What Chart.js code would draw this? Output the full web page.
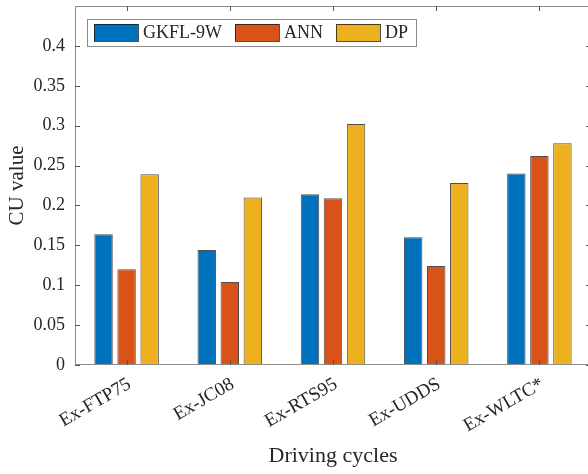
<!DOCTYPE html>
<html>
<head>
<meta charset="utf-8">
<script src="https://cdn.jsdelivr.net/npm/chart.js@4"></script>
<style>
  html, body { margin: 0; padding: 0; background: #fff; overflow: hidden; }
  #wrap { width: 592px; height: 474px; }
</style>
</head>
<body>
<div id="wrap"><canvas id="cu" width="592" height="474"></canvas></div>
<script>
// data
const categories = ['Ex-FTP75', 'Ex-JC08', 'Ex-RTS95', 'Ex-UDDS', 'Ex-WLTC*'];
const seriesNames = ['GKFL-9W', 'ANN', 'DP'];
const gkfl9w = [0.164, 0.144, 0.214, 0.160, 0.240];
const ann = [0.120, 0.104, 0.209, 0.124, 0.262];
const dp = [0.239, 0.210, 0.302, 0.228, 0.278];
const yTickValues = [0, 0.05, 0.1, 0.15, 0.2, 0.25, 0.3, 0.35, 0.4];

const colors = ['#0072BD', '#D95319', '#EDB120'];
const serif = "'Liberation Serif', 'Times New Roman', serif";
const axisGrey = '#8c8c8c';
const textCol = '#262626';

// box, inward ticks and the framed legend, matlab style
const matlabAxes = {
  id: 'matlabAxes',
  afterDatasetsDraw(chart) {
    const { ctx, chartArea, scales } = chart;
    const { left, right, top, bottom } = chartArea;
    ctx.save();
    ctx.strokeStyle = axisGrey;
    ctx.lineWidth = 1;
    ctx.strokeRect(Math.round(left) + 0.5, Math.round(top) + 0.5,
      Math.round(right - left) - 1, Math.round(bottom - top) - 1);

    ctx.beginPath();
    yTickValues.forEach(v => {
      const py = Math.round(scales.y.getPixelForValue(v)) + 0.5;
      ctx.moveTo(left, py); ctx.lineTo(left + 5, py);
      ctx.moveTo(right, py); ctx.lineTo(right - 5, py);
    });
    categories.forEach((c, i) => {
      const px = Math.round(scales.x.getPixelForValue(i)) + 0.5;
      ctx.moveTo(px, bottom); ctx.lineTo(px, bottom - 5);
      ctx.moveTo(px, top); ctx.lineTo(px, top + 5);
    });
    ctx.strokeStyle = '#555';
    ctx.stroke();

    // legend
    ctx.font = '18px ' + serif;
    const bx = 87, by = 19, bh = 27;
    const sw = 44, sh = 17;
    let x = 94;
    const items = seriesNames.map((n, i) => {
      const it = { x, name: n, color: colors[i] };
      x += sw + 5 + ctx.measureText(n).width + 13;
      return it;
    });
    const bw = x - 13 + 8 - bx;
    ctx.fillStyle = '#fff';
    ctx.fillRect(bx, by, bw, bh);
    ctx.strokeStyle = axisGrey;
    ctx.strokeRect(bx + 0.5, by + 0.5, bw, bh);
    items.forEach(it => {
      ctx.fillStyle = it.color;
      ctx.fillRect(it.x, by + 5, sw, sh);
      ctx.strokeStyle = 'rgba(20,20,20,0.75)';
      ctx.strokeRect(it.x + 0.5, by + 5.5, sw, sh);
      ctx.fillStyle = textCol;
      ctx.textBaseline = 'middle';
      ctx.fillText(it.name, it.x + sw + 5, by + bh / 2 + 1);
    });
    ctx.restore();
  }
};

new Chart(document.getElementById('cu'), {
  type: 'bar',
  data: {
    labels: categories,
    datasets: [gkfl9w, ann, dp].map((d, i) => ({
      label: seriesNames[i],
      data: d,
      backgroundColor: colors[i],
      borderColor: 'rgba(20,20,20,0.75)',
      borderWidth: 1,
      borderSkipped: 'start',
      barPercentage: 0.8,
      categoryPercentage: 0.67
    }))
  },
  options: {
    responsive: false,
    animation: false,
    events: [],
    layout: { padding: { top: 6, right: 1, left: 0, bottom: 0 } },
    plugins: { legend: { display: false }, tooltip: { enabled: false } },
    scales: {
      x: {
        grid: { display: false, drawTicks: false },
        border: { display: false },
        ticks: {
          color: textCol,
          font: { family: serif, size: 19 },
          maxRotation: 30,
          minRotation: 30,
          autoSkip: false,
          padding: 8,
          labelOffset: 3
        },
        title: {
          display: true,
          text: 'Driving cycles',
          color: textCol,
          font: { family: serif, size: 22 },
          padding: { top: 0, bottom: 5 }
        },
        afterFit(scale) {
          scale.height = 109;
          scale.paddingLeft = 0;
          scale.paddingRight = 0;
        }
      },
      y: {
        min: 0,
        max: 0.45,
        grid: { display: false, drawTicks: false },
        border: { display: false },
        afterBuildTicks(scale) {
          scale.ticks = yTickValues.map(v => ({ value: v }));
        },
        ticks: {
          color: textCol,
          font: { family: serif, size: 18 },
          padding: 10,
          callback: v => String(parseFloat(v.toFixed(2)))
        },
        title: {
          display: true,
          text: 'CU value',
          color: textCol,
          font: { family: serif, size: 21 },
          padding: { top: 5, bottom: 0 }
        },
        afterFit(scale) {
          scale.width = 75;
          scale.paddingTop = 0;
          scale.paddingBottom = 0;
        }
      }
    }
  },
  plugins: [matlabAxes]
});
</script>
</body>
</html>
